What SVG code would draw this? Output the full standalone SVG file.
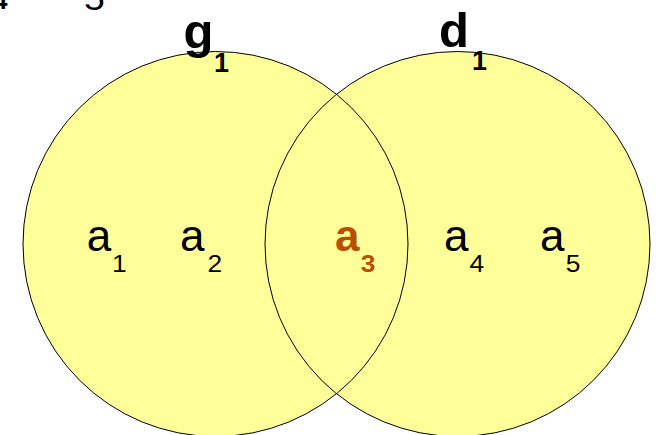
<svg xmlns="http://www.w3.org/2000/svg" width="656" height="435" viewBox="0 0 656 435">
<style>
.fill{fill:#FFFF99;stroke:none}
.outline{fill:none;stroke:#000;stroke-width:1}
.lbl{font-family:"Liberation Sans",Arial,sans-serif;fill:#000}
.big{font-size:44px}
.sub{font-size:24px}
.set{font-size:49px;font-weight:bold}
.setsub{font-size:27px;font-weight:bold}
.hi{fill:#B85000;font-weight:bold}
</style>
<rect width="656" height="435" fill="#fff"/>
<g id="cut-text">
<text class="lbl" font-size="26" font-weight="bold" transform="translate(-7,9)">4</text>
<text class="lbl" font-size="34" transform="translate(84,10) scale(1.1,1)">5</text>
</g>
<g id="set-g1">
<circle class="fill" cx="215.5" cy="244" r="192.5"/>
</g>
<g id="set-d1">
<circle class="fill" cx="457.5" cy="244" r="192.5"/>
</g>
<g id="outlines">
<circle class="outline" cx="215.5" cy="244" r="192.5"/>
<circle class="outline" cx="457.5" cy="244" r="192.5"/>
</g>
<g id="label-g1">
<text class="lbl set" x="183.5" y="48">g</text>
<text class="lbl setsub" x="214" y="71.5">1</text>
</g>
<g id="label-d1">
<text class="lbl set" x="439" y="47">d</text>
<text class="lbl setsub" x="472" y="70">1</text>
</g>
<g id="a1">
<text class="lbl big" x="86.7" y="251">a</text>
<text class="lbl sub" transform="translate(112,272) scale(1.1,1)">1</text>
</g>
<g id="a2">
<text class="lbl big" x="180" y="251">a</text>
<text class="lbl sub" transform="translate(207.5,272) scale(1.1,1)">2</text>
</g>
<g id="a3">
<text class="lbl big hi" x="335" y="251">a</text>
<text class="lbl sub hi" transform="translate(360.7,272) scale(1.1,1)">3</text>
</g>
<g id="a4">
<text class="lbl big" x="444" y="251">a</text>
<text class="lbl sub" transform="translate(469.5,272) scale(1.1,1)">4</text>
</g>
<g id="a5">
<text class="lbl big" x="540" y="251">a</text>
<text class="lbl sub" transform="translate(565.7,272) scale(1.1,1)">5</text>
</g>
</svg>
